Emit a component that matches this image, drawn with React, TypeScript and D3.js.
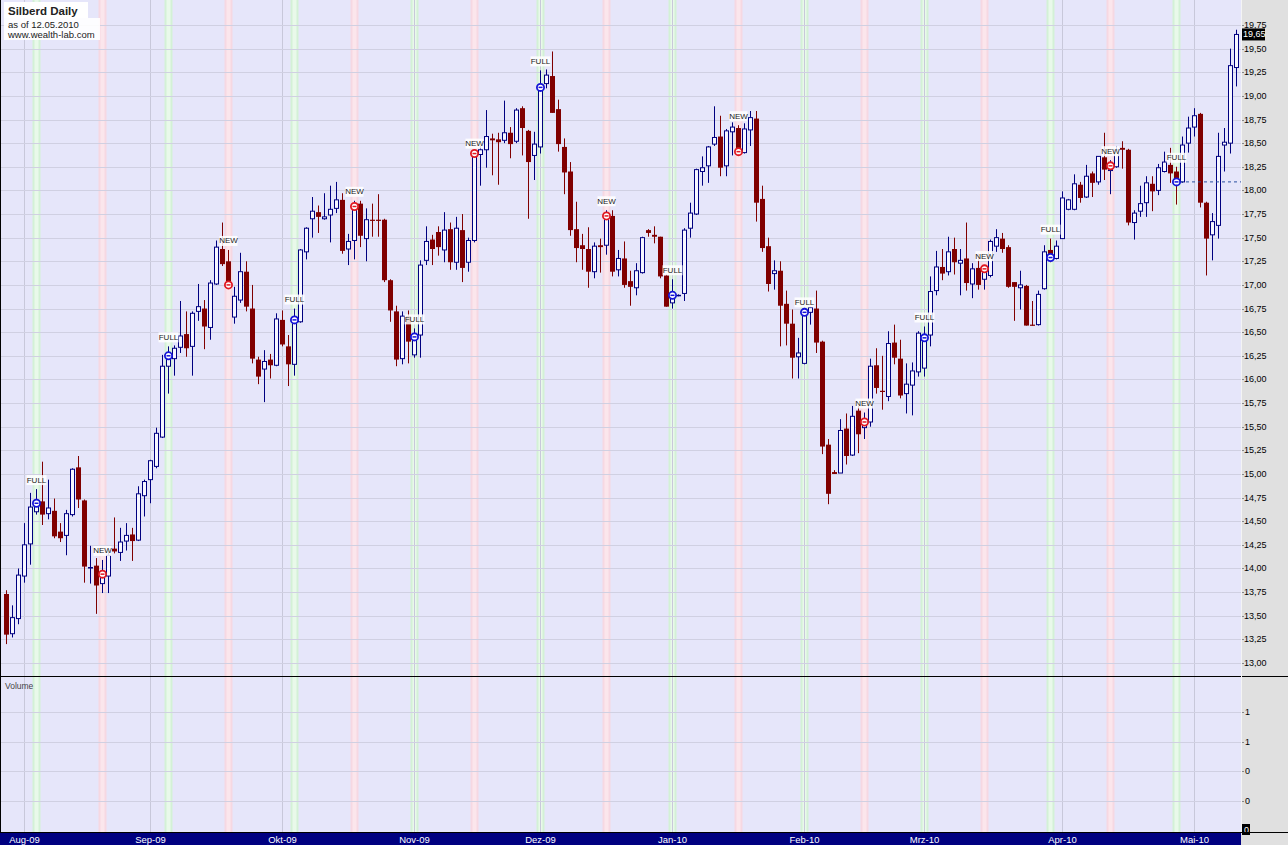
import * as d3 from 'd3'

const W = 1288
const H = 845

// daily OHLC, one entry per bar
const opens = [
  13.73, 13.31, 13.47, 13.92, 14.26, 14.60, 14.71, 14.58, 14.61, 14.39,
  14.35, 14.57, 15.07, 14.72, 14.01, 14.03, 13.84, 13.92, 14.21, 14.17,
  14.29, 14.36, 14.30, 14.77, 14.94, 15.08, 15.39, 16.14, 16.22, 16.34,
  16.48, 16.35, 16.72, 16.75, 16.55, 17.01, 17.38, 17.25, 16.66, 16.84,
  17.14, 16.75, 16.21, 16.11, 16.21, 16.15, 16.63, 16.35, 16.16, 16.61,
  17.35, 17.70, 17.77, 17.70, 17.74, 17.81, 17.90, 17.38, 17.47, 17.86,
  17.49, 17.69, 17.69, 17.69, 17.05, 16.72, 16.22, 16.67, 16.26, 16.47,
  17.26, 17.48, 17.56, 17.37, 17.59, 17.24, 17.58, 17.24, 17.47, 18.38,
  18.43, 18.55, 18.54, 18.53, 18.61, 18.52, 18.87, 18.63, 18.37, 18.46,
  19.13, 19.21, 18.86, 18.46, 18.20, 17.59, 17.42, 17.38, 17.14, 17.42,
  17.42, 17.73, 17.16, 17.28, 17.04, 16.97, 17.13, 17.58, 17.53, 17.51,
  17.10, 16.81, 16.89, 16.91, 17.60, 17.75, 18.20, 18.26, 18.49, 18.57,
  18.26, 18.62, 18.66, 18.40, 18.64, 18.76, 17.91, 17.41, 17.12, 17.15,
  16.80, 16.59, 16.24, 16.17, 16.71, 16.75, 16.40, 15.31, 15.02, 15.01,
  15.48, 15.20, 15.67, 15.49, 15.55, 16.15, 15.88, 15.82, 16.39, 16.22,
  15.85, 15.94, 16.08, 16.12, 16.47, 16.94, 17.19, 17.14, 17.38, 17.23,
  17.28, 17.01, 17.18, 17.06, 17.10, 17.41, 17.49, 17.40, 17.03, 16.97,
  16.99, 16.58, 16.58, 16.96, 17.37, 17.28, 17.49, 17.80, 17.80, 18.06,
  17.93, 18.18, 18.09, 18.35, 18.21, 18.25, 18.45, 18.43, 17.66, 17.78,
  17.87, 18.07, 18.00, 18.20, 18.27, 18.20, 18.09, 18.50, 18.67, 18.81,
  17.87, 17.53, 17.63, 18.48, 18.50, 19.30,
]
const highs = [
  13.77, 13.61, 14.00, 14.48, 14.80, 14.84, 15.13, 14.94, 14.74, 14.48,
  14.62, 15.06, 15.19, 14.73, 14.24, 14.11, 14.09, 14.19, 14.54, 14.43,
  14.48, 14.43, 14.87, 14.94, 15.15, 15.49, 16.26, 16.35, 16.36, 16.83,
  16.72, 16.72, 17.01, 16.84, 17.05, 17.47, 17.66, 17.37, 16.98, 17.34,
  17.25, 17.00, 16.24, 16.31, 16.27, 16.70, 16.73, 16.47, 16.75, 17.38,
  17.61, 17.93, 17.84, 17.97, 18.05, 18.09, 17.97, 17.54, 17.89, 17.89,
  17.81, 17.86, 17.96, 17.70, 17.06, 16.78, 16.72, 16.73, 16.54, 17.26,
  17.62, 17.53, 17.62, 17.77, 17.66, 17.72, 17.75, 17.50, 18.40, 18.47,
  18.85, 18.60, 18.61, 18.95, 18.67, 18.87, 18.89, 18.64, 18.62, 19.27,
  19.28, 19.47, 18.96, 18.55, 18.30, 17.88, 17.54, 17.61, 17.45, 17.49,
  17.79, 17.79, 17.37, 17.46, 17.15, 17.23, 17.51, 17.59, 17.62, 17.51,
  17.11, 17.06, 16.90, 17.60, 17.87, 18.23, 18.36, 18.47, 18.89, 18.79,
  18.65, 18.72, 18.69, 18.71, 18.84, 18.84, 18.05, 17.50, 17.26, 17.25,
  16.94, 16.74, 16.44, 16.72, 16.77, 16.94, 16.41, 15.37, 15.04, 15.58,
  15.64, 15.72, 15.72, 15.65, 16.22, 16.33, 16.25, 16.51, 16.58, 16.42,
  16.17, 16.18, 16.51, 16.56, 17.09, 17.36, 17.38, 17.51, 17.50, 17.38,
  17.66, 17.23, 17.33, 17.21, 17.48, 17.59, 17.55, 17.42, 17.03, 17.15,
  17.00, 16.83, 16.94, 17.42, 17.49, 17.47, 17.99, 17.91, 18.17, 18.09,
  18.27, 18.20, 18.36, 18.61, 18.32, 18.47, 18.52, 18.44, 17.79, 18.05,
  18.15, 18.15, 18.28, 18.41, 18.45, 18.25, 18.57, 18.78, 18.87, 18.82,
  17.88, 17.76, 18.61, 18.66, 19.50, 19.70,
]
const lows = [
  13.20, 13.27, 13.41, 13.85, 14.04, 14.57, 14.46, 14.52, 14.32, 14.28,
  14.14, 14.55, 14.64, 13.85, 13.84, 13.52, 13.74, 13.74, 14.16, 14.08,
  14.19, 14.08, 14.29, 14.55, 14.69, 15.06, 15.38, 15.85, 16.04, 16.28,
  16.24, 16.04, 16.62, 16.32, 16.42, 17.00, 17.20, 16.96, 16.59, 16.81,
  16.72, 16.17, 15.95, 15.76, 16.01, 16.14, 16.35, 15.93, 16.04, 16.60,
  17.27, 17.50, 17.55, 17.69, 17.45, 17.76, 17.33, 17.21, 17.27, 17.40,
  17.25, 17.51, 17.51, 17.03, 16.61, 16.14, 16.16, 16.17, 16.23, 16.23,
  17.21, 17.21, 17.31, 17.24, 17.16, 17.16, 17.03, 17.14, 17.45, 18.05,
  18.24, 18.16, 18.06, 18.50, 18.34, 18.50, 18.37, 17.70, 18.11, 18.39,
  19.08, 18.82, 18.41, 17.96, 17.52, 17.24, 17.16, 16.97, 17.07, 17.13,
  17.32, 17.09, 17.09, 16.97, 16.78, 16.89, 17.12, 17.51, 17.44, 17.07,
  16.77, 16.75, 16.88, 16.83, 17.50, 17.74, 18.05, 18.08, 18.47, 18.15,
  18.15, 18.37, 18.37, 18.39, 18.47, 17.67, 17.35, 16.93, 16.95, 16.35,
  16.36, 16.01, 16.01, 16.16, 16.58, 16.28, 15.21, 14.68, 15.00, 15.01,
  15.10, 15.19, 15.22, 15.37, 15.50, 15.85, 15.68, 15.77, 16.16, 15.80,
  15.64, 15.62, 16.03, 16.03, 16.35, 16.89, 17.05, 17.10, 17.11, 16.89,
  16.94, 16.86, 16.95, 16.95, 17.08, 17.35, 17.34, 16.97, 16.62, 16.74,
  16.57, 16.57, 16.57, 16.95, 17.24, 17.27, 17.49, 17.79, 17.79, 17.87,
  17.92, 17.93, 18.06, 18.11, 17.96, 18.24, 18.23, 17.63, 17.48, 17.72,
  17.72, 17.78, 17.95, 18.19, 18.08, 17.85, 18.08, 18.40, 18.57, 17.82,
  17.10, 17.26, 17.49, 18.20, 18.39, 19.10,
]
const closes = [
  13.30, 13.48, 13.93, 14.25, 14.65, 14.69, 14.57, 14.64, 14.34, 14.32,
  14.58, 15.05, 14.73, 14.02, 14.01, 13.82, 13.94, 14.14, 14.18, 14.28,
  14.35, 14.29, 14.79, 14.92, 15.14, 15.43, 16.14, 16.25, 16.33, 16.46,
  16.33, 16.70, 16.77, 16.56, 17.02, 17.40, 17.22, 17.00, 16.88, 17.14,
  16.77, 16.22, 16.03, 16.19, 16.15, 16.64, 16.37, 16.16, 16.63, 17.37,
  17.60, 17.78, 17.72, 17.72, 17.80, 17.90, 17.36, 17.46, 17.83, 17.52,
  17.69, 17.68, 17.68, 17.05, 16.73, 16.21, 16.67, 16.40, 16.45, 17.21,
  17.46, 17.38, 17.40, 17.58, 17.24, 17.60, 17.18, 17.47, 18.39, 18.43,
  18.57, 18.53, 18.51, 18.61, 18.49, 18.85, 18.66, 18.30, 18.49, 19.09,
  19.22, 18.82, 18.49, 18.19, 17.58, 17.39, 17.38, 17.14, 17.41, 17.40,
  17.73, 17.14, 17.28, 17.00, 16.98, 17.15, 17.50, 17.55, 17.51, 17.09,
  16.77, 16.89, 16.89, 17.58, 17.76, 18.22, 18.24, 18.46, 18.56, 18.24,
  18.63, 18.67, 18.41, 18.65, 18.77, 17.87, 17.39, 17.01, 17.15, 16.78,
  16.59, 16.23, 16.28, 16.71, 16.76, 16.39, 15.29, 14.79, 15.00, 15.46,
  15.19, 15.61, 15.42, 15.55, 16.14, 15.91, 15.87, 16.38, 16.23, 15.83,
  15.95, 16.09, 16.49, 16.44, 16.93, 17.19, 17.12, 17.35, 17.24, 17.26,
  17.02, 17.17, 17.00, 17.17, 17.46, 17.50, 17.38, 16.98, 16.98, 17.00,
  16.57, 16.57, 16.90, 17.35, 17.29, 17.41, 17.92, 17.90, 18.07, 17.92,
  18.15, 18.08, 18.36, 18.22, 18.26, 18.43, 18.43, 17.66, 17.76, 17.86,
  18.08, 17.99, 18.24, 18.30, 18.18, 18.09, 18.48, 18.66, 18.79, 17.87,
  17.49, 17.67, 18.36, 18.51, 19.32, 19.65,
]

const monthLabels = ['Aug-09', 'Sep-09', 'Okt-09', 'Nov-09', 'Dez-09', 'Jan-10', 'Feb-10', 'Mrz-10', 'Apr-10', 'Mai-10']
const monthBars = [3, 24, 46, 68, 89, 111, 133, 153, 176, 198]

// moon phase bars (full = green band, new = pink band)
const fullMoonBars = [5, 27, 48, 68, 89, 111, 133, 153, 174, 195]
const newMoonBars = [16, 37, 58, 78, 100, 122, 143, 163, 184]

const priceTicks = [
  13, 13.25, 13.5, 13.75, 14, 14.25, 14.5, 14.75, 15, 15.25, 15.5, 15.75, 16, 16.25,
  16.5, 16.75, 17, 17.25, 17.5, 17.75, 18, 18.25, 18.5, 18.75, 19, 19.25, 19.5, 19.75,
]
const volumeTicks = [0, 0.25, 0.5, 0.75, 1]
const volumeTickLabels = ['0', '0', '0', '1', '1']

const FONT = '"Liberation Sans", Arial, sans-serif'
const UP = '#000080'
const DOWN = '#800000'

const fmtPrice = (v: number) => d3.format('.2f')(v).replace('.', ',')

export default function App() {
  const PLOT_R = 1241
  const PRICE_BOTTOM = 676
  const VOL_BOTTOM = 832

  const last = closes.length - 1
  const x = d3.scaleLinear().domain([0, last]).range([6, 1236])
  const y = d3.scaleLinear().domain([13, 19.75]).range([663, 25])
  const vy = d3.scaleLinear().domain([0, 1]).range([830, 712])

  const band = (i: number, outer: string, inner: string, key: string) => {
    const cx = x(i) + 0.5
    return (
      <g key={key}>
        <rect x={cx - 4} y={0} width={8} height={VOL_BOTTOM} fill={outer} />
        <rect x={cx - 2} y={0} width={4} height={VOL_BOTTOM} fill={inner} />
      </g>
    )
  }

  const marker = (i: number, color: string, label: string, key: string) => {
    const cx = x(i) + 0.5
    const cy = y(closes[i])
    const ty = y(highs[i]) - 9
    const tw = label === 'FULL' ? 20 : 18
    return (
      <g key={key}>
        <rect x={cx - tw / 2} y={ty - 5} width={tw} height={10} fill="#ffffff" opacity={0.85} />
        <text x={cx} y={ty} textAnchor="middle" dominantBaseline="central"
          style={{ fontSize: 8, fill: '#222', fontFamily: FONT }}>
          {label}
        </text>
        <circle cx={cx} cy={cy} r={3.6} fill="#ffffff" stroke={color} strokeWidth={1.8} />
        <line x1={cx - 2} x2={cx + 2} y1={cy} y2={cy} stroke={color} strokeWidth={1.5} />
      </g>
    )
  }

  const lastY = y(closes[last])
  const entryY = y(closes[195])

  return (
    <div>
      <style>{'body{margin:0;overflow:hidden}'}</style>
      <svg width={W} height={H} style={{ display: 'block', fontFamily: FONT }}>
        {/* backgrounds */}
        <rect x={0} y={0} width={W} height={H} fill="#e0e0e0" />
        <rect x={0} y={0} width={PLOT_R} height={VOL_BOTTOM} fill="#e6e6fa" />

        {/* moon bands */}
        {fullMoonBars.map((i) => band(i, '#d3f1d6', '#e9f9ea', `f${i}`))}
        {newMoonBars.map((i) => band(i, '#f6d8e2', '#fbe6ec', `n${i}`))}

        {/* month grid */}
        {monthBars.map((i) => (
          <line key={`mg${i}`} x1={x(i) + 0.5} x2={x(i) + 0.5} y1={0} y2={VOL_BOTTOM}
            stroke="#c8c8da" strokeWidth={1} />
        ))}

        {/* price grid + axis */}
        {priceTicks.map((t) => (
          <g key={`pt${t}`}>
            <line x1={0} x2={PLOT_R} y1={Math.round(y(t)) + 0.5} y2={Math.round(y(t)) + 0.5}
              stroke="#d0d0e2" strokeWidth={1} />
            <line x1={PLOT_R} x2={PLOT_R + 3} y1={Math.round(y(t)) + 0.5} y2={Math.round(y(t)) + 0.5}
              stroke="#888" />
            <text x={PLOT_R + 3} y={y(t)} dominantBaseline="central"
              style={{ fontSize: 9, fill: '#000' }}>
              {fmtPrice(t)}
            </text>
          </g>
        ))}

        {/* volume grid + axis */}
        {volumeTicks.map((t, k) => (
          <g key={`vt${t}`}>
            {k > 0 && (
              <line x1={0} x2={PLOT_R} y1={Math.round(vy(t)) + 0.5} y2={Math.round(vy(t)) + 0.5}
                stroke="#d0d0e2" strokeWidth={1} />
            )}
            <line x1={PLOT_R} x2={PLOT_R + 3} y1={Math.round(vy(t)) + 0.5} y2={Math.round(vy(t)) + 0.5}
              stroke="#888" />
            {k > 0 && (
              <text x={PLOT_R + 4} y={vy(t)} dominantBaseline="central"
                style={{ fontSize: 9, fill: '#000' }}>
                {volumeTickLabels[k]}
              </text>
            )}
          </g>
        ))}
        <rect x={PLOT_R + 1} y={vy(0) - 6} width={8} height={11} fill="#000" />
        <text x={PLOT_R + 3} y={vy(0)} dominantBaseline="central"
          style={{ fontSize: 9, fill: '#fff' }}>
          {volumeTickLabels[0]}
        </text>

        {/* candles */}
        {closes.map((c, i) => {
          const o = opens[i]
          const up = c >= o
          const cx = x(i) + 0.5
          const col = up ? UP : DOWN
          const top = y(Math.max(o, c))
          const bot = y(Math.min(o, c))
          return (
            <g key={`c${i}`}>
              <line x1={cx} x2={cx} y1={y(highs[i])} y2={y(lows[i])} stroke={col} strokeWidth={1} />
              {up ? (
                <rect x={cx - 2} y={top} width={4} height={Math.max(bot - top, 0.5)}
                  fill="#f7f7ff" stroke={col} strokeWidth={1} />
              ) : (
                <rect x={cx - 2.5} y={top} width={5} height={Math.max(bot - top, 1.2)} fill={col} />
              )}
            </g>
          )
        })}

        {/* open position level */}
        <line x1={x(195) + 4} x2={PLOT_R} y1={entryY} y2={entryY}
          stroke="#2a4fa0" strokeWidth={1} strokeDasharray="3,3" />

        {/* moon markers */}
        {fullMoonBars.map((i) => marker(i, '#1414d8', 'FULL', `fm${i}`))}
        {newMoonBars.map((i) => marker(i, '#e01822', 'NEW', `nm${i}`))}

        {/* current price tag */}
        <rect x={PLOT_R + 1} y={lastY - 6} width={23} height={12} fill="#000" />
        <text x={PLOT_R + 2} y={lastY} dominantBaseline="central"
          style={{ fontSize: 9, fill: '#fff' }}>
          {fmtPrice(closes[last])}
        </text>

        {/* pane borders */}
        <line x1={0} x2={W} y1={PRICE_BOTTOM + 0.5} y2={PRICE_BOTTOM + 0.5} stroke="#000" />
        <line x1={0.5} x2={0.5} y1={0} y2={VOL_BOTTOM} stroke="#000" />
        <line x1={PLOT_R + 0.5} x2={PLOT_R + 0.5} y1={0} y2={VOL_BOTTOM} stroke="#f4f4f4" />

        {/* volume label */}
        <text x={5} y={686} dominantBaseline="central" style={{ fontSize: 8.5, fill: '#444' }}>
          Volume
        </text>

        {/* date axis */}
        <rect x={0} y={VOL_BOTTOM} width={PLOT_R} height={H - VOL_BOTTOM} fill="#000080" />
        <line x1={0} x2={W} y1={VOL_BOTTOM + 0.5} y2={VOL_BOTTOM + 0.5} stroke="#000" />
        {monthBars.map((i, k) => (
          <text key={`ml${i}`} x={x(i) + 0.5} y={839} textAnchor="middle" dominantBaseline="central"
            style={{ fontSize: 9.5, fill: '#fff' }}>
            {monthLabels[k]}
          </text>
        ))}

        {/* title */}
        <rect x={4} y={2} width={84} height={16} fill="#fff" />
        <rect x={4} y={18} width={96} height={22} fill="#fff" opacity={0.9} />
        <text x={8} y={11} dominantBaseline="central" style={{ fontSize: 11.5, fontWeight: 700, fill: '#222' }}>
          Silberd Daily
        </text>
        <text x={8} y={24} dominantBaseline="central" style={{ fontSize: 9.5, fill: '#222' }}>
          as of 12.05.2010
        </text>
        <text x={8} y={34.5} dominantBaseline="central" style={{ fontSize: 9.5, fill: '#222' }}>
          www.wealth-lab.com
        </text>
      </svg>
    </div>
  )
}
